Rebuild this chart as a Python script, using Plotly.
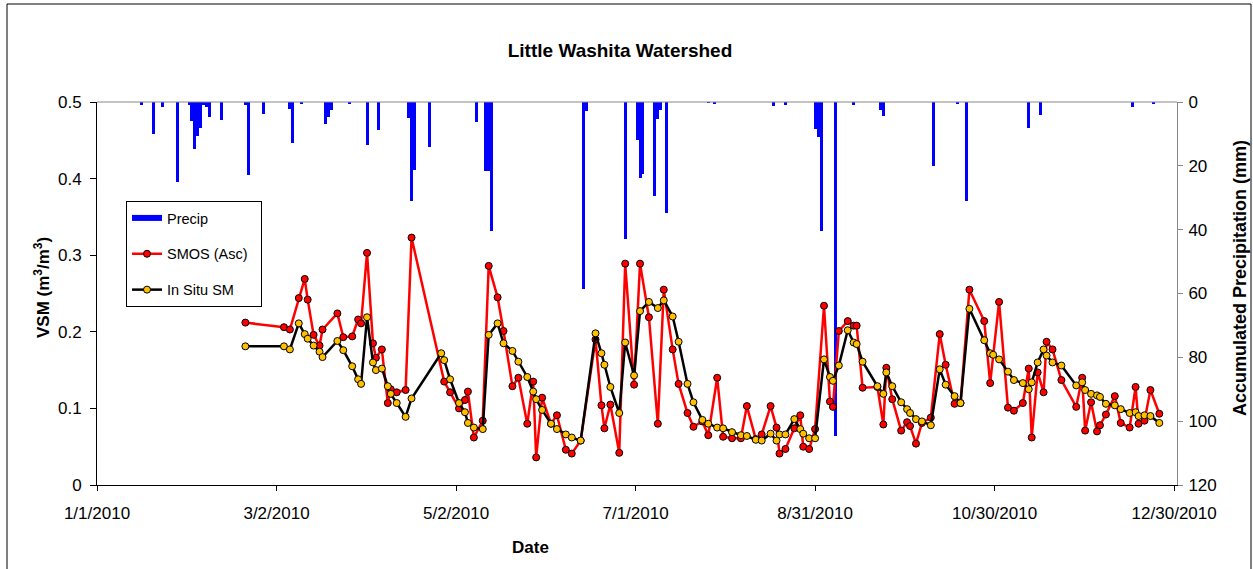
import plotly.graph_objects as go

# ---------------- data ----------------
smos_dates = [
    "2010-02-20", "2010-03-05", "2010-03-07", "2010-03-10", "2010-03-12", "2010-03-13",
    "2010-03-15", "2010-03-17", "2010-03-18", "2010-03-23", "2010-03-25", "2010-03-28",
    "2010-03-30", "2010-03-31", "2010-04-02", "2010-04-04", "2010-04-05", "2010-04-07",
    "2010-04-09", "2010-04-10", "2010-04-12", "2010-04-15", "2010-04-17", "2010-04-28",
    "2010-04-30", "2010-05-03", "2010-05-05", "2010-05-06", "2010-05-08", "2010-05-11",
    "2010-05-13", "2010-05-16", "2010-05-18", "2010-05-21", "2010-05-23", "2010-05-26",
    "2010-05-28", "2010-05-29", "2010-05-31", "2010-06-03", "2010-06-05", "2010-06-08",
    "2010-06-10", "2010-06-13", "2010-06-18", "2010-06-20", "2010-06-21", "2010-06-23",
    "2010-06-26", "2010-06-28", "2010-07-01", "2010-07-03", "2010-07-06", "2010-07-09",
    "2010-07-11", "2010-07-14", "2010-07-16", "2010-07-19", "2010-07-21", "2010-07-24",
    "2010-07-26", "2010-07-29", "2010-07-31", "2010-08-03", "2010-08-06", "2010-08-08",
    "2010-08-11", "2010-08-13", "2010-08-16", "2010-08-18", "2010-08-19", "2010-08-21",
    "2010-08-24", "2010-08-26", "2010-08-27", "2010-08-29", "2010-08-31", "2010-09-03",
    "2010-09-05", "2010-09-06", "2010-09-08", "2010-09-11", "2010-09-13", "2010-09-14",
    "2010-09-16", "2010-09-21", "2010-09-23", "2010-09-24", "2010-09-26", "2010-09-29",
    "2010-10-01", "2010-10-02", "2010-10-04", "2010-10-06", "2010-10-09", "2010-10-12",
    "2010-10-14", "2010-10-17", "2010-10-19", "2010-10-22", "2010-10-27", "2010-10-29",
    "2010-11-01", "2010-11-04", "2010-11-06", "2010-11-09", "2010-11-11", "2010-11-12",
    "2010-11-14", "2010-11-16", "2010-11-17", "2010-11-19", "2010-11-22", "2010-11-27",
    "2010-11-29", "2010-11-30", "2010-12-02", "2010-12-04", "2010-12-05", "2010-12-07",
    "2010-12-10", "2010-12-12", "2010-12-15", "2010-12-17", "2010-12-18", "2010-12-20",
    "2010-12-22", "2010-12-25",
]
smos_vsm = [
    0.212, 0.206, 0.203, 0.244, 0.269, 0.242,
    0.196, 0.182, 0.203, 0.224, 0.193, 0.194,
    0.216, 0.211, 0.303, 0.185, 0.166, 0.177,
    0.107, 0.125, 0.121, 0.124, 0.323, 0.135,
    0.121, 0.100, 0.111, 0.122, 0.062, 0.084,
    0.286, 0.245, 0.201, 0.129, 0.140, 0.080,
    0.135, 0.036, 0.114, 0.080, 0.091, 0.046,
    0.041, 0.058, 0.190, 0.104, 0.074, 0.105,
    0.042, 0.289, 0.131, 0.289, 0.219, 0.080,
    0.255, 0.177, 0.132, 0.094, 0.076, 0.083,
    0.065, 0.140, 0.063, 0.061, 0.061, 0.103,
    0.060, 0.066, 0.103, 0.075, 0.041, 0.047,
    0.074, 0.091, 0.050, 0.047, 0.073, 0.234,
    0.109, 0.102, 0.201, 0.214, 0.208, 0.208,
    0.127, 0.128, 0.079, 0.153, 0.112, 0.071,
    0.082, 0.077, 0.054, 0.081, 0.088, 0.197,
    0.157, 0.106, 0.107, 0.255, 0.214, 0.133,
    0.239, 0.101, 0.097, 0.107, 0.152, 0.062,
    0.147, 0.121, 0.187, 0.177, 0.137, 0.102,
    0.140, 0.071, 0.108, 0.070, 0.078, 0.092,
    0.116, 0.081, 0.075, 0.128, 0.080, 0.084,
    0.124, 0.093,
]

insitu_dates = [
    "2010-02-20", "2010-03-05", "2010-03-07", "2010-03-10", "2010-03-12", "2010-03-13",
    "2010-03-15", "2010-03-17", "2010-03-18", "2010-03-23", "2010-03-25", "2010-03-28",
    "2010-03-30", "2010-03-31", "2010-04-02", "2010-04-04", "2010-04-05", "2010-04-07",
    "2010-04-09", "2010-04-10", "2010-04-12", "2010-04-15", "2010-04-17", "2010-04-27",
    "2010-04-28", "2010-04-30", "2010-05-03", "2010-05-05", "2010-05-06", "2010-05-08",
    "2010-05-11", "2010-05-13", "2010-05-16", "2010-05-18", "2010-05-21", "2010-05-23",
    "2010-05-26", "2010-05-28", "2010-05-29", "2010-05-31", "2010-06-03", "2010-06-05",
    "2010-06-08", "2010-06-10", "2010-06-13", "2010-06-18", "2010-06-20", "2010-06-21",
    "2010-06-23", "2010-06-26", "2010-06-28", "2010-07-01", "2010-07-03", "2010-07-06",
    "2010-07-09", "2010-07-11", "2010-07-14", "2010-07-16", "2010-07-19", "2010-07-21",
    "2010-07-24", "2010-07-26", "2010-07-29", "2010-07-31", "2010-08-03", "2010-08-06",
    "2010-08-08", "2010-08-11", "2010-08-13", "2010-08-16", "2010-08-18", "2010-08-19",
    "2010-08-21", "2010-08-24", "2010-08-26", "2010-08-27", "2010-08-29", "2010-08-31",
    "2010-09-03", "2010-09-05", "2010-09-06", "2010-09-08", "2010-09-11", "2010-09-13",
    "2010-09-14", "2010-09-16", "2010-09-21", "2010-09-23", "2010-09-24", "2010-09-26",
    "2010-09-29", "2010-10-01", "2010-10-02", "2010-10-04", "2010-10-06", "2010-10-09",
    "2010-10-12", "2010-10-14", "2010-10-17", "2010-10-19", "2010-10-22", "2010-10-27",
    "2010-10-29", "2010-10-30", "2010-11-01", "2010-11-04", "2010-11-06", "2010-11-09",
    "2010-11-11", "2010-11-12", "2010-11-14", "2010-11-16", "2010-11-17", "2010-11-19",
    "2010-11-22", "2010-11-27", "2010-11-29", "2010-11-30", "2010-12-02", "2010-12-04",
    "2010-12-05", "2010-12-07", "2010-12-10", "2010-12-12", "2010-12-15", "2010-12-17",
    "2010-12-18", "2010-12-20", "2010-12-22", "2010-12-25",
]
insitu_vsm = [
    0.181, 0.181, 0.177, 0.211, 0.197, 0.191,
    0.182, 0.174, 0.167, 0.188, 0.176, 0.155,
    0.138, 0.132, 0.219, 0.160, 0.150, 0.152,
    0.129, 0.119, 0.107, 0.089, 0.113, 0.172,
    0.163, 0.138, 0.107, 0.095, 0.081, 0.075,
    0.073, 0.196, 0.211, 0.185, 0.175, 0.161,
    0.141, 0.122, 0.112, 0.098, 0.080, 0.073,
    0.066, 0.062, 0.058, 0.198, 0.172, 0.157,
    0.128, 0.094, 0.186, 0.143, 0.227, 0.239,
    0.231, 0.241, 0.220, 0.187, 0.132, 0.108,
    0.085, 0.080, 0.075, 0.074, 0.069, 0.065,
    0.064, 0.059, 0.058, 0.067, 0.058, 0.066,
    0.066, 0.086, 0.073, 0.067, 0.061, 0.061,
    0.164, 0.141, 0.136, 0.156, 0.202, 0.186,
    0.184, 0.161, 0.129, 0.119, 0.147, 0.129,
    0.108, 0.099, 0.094, 0.086, 0.083, 0.078,
    0.151, 0.131, 0.116, 0.107, 0.230, 0.189,
    0.172, 0.170, 0.164, 0.148, 0.137, 0.133,
    0.125, 0.134, 0.160, 0.177, 0.169, 0.160,
    0.156, 0.130, 0.134, 0.124, 0.119, 0.117,
    0.115, 0.106, 0.104, 0.099, 0.094, 0.095,
    0.090, 0.091, 0.090, 0.081,
]

precip_dates = [
    "2010-01-16", "2010-01-20", "2010-01-23", "2010-01-28", "2010-02-01", "2010-02-02",
    "2010-02-03", "2010-02-04", "2010-02-05", "2010-02-06", "2010-02-07", "2010-02-08",
    "2010-02-12", "2010-02-20", "2010-02-21", "2010-02-26", "2010-03-07", "2010-03-08",
    "2010-03-11", "2010-03-19", "2010-03-20", "2010-03-21", "2010-03-27", "2010-04-02",
    "2010-04-06", "2010-04-16", "2010-04-17", "2010-04-18", "2010-04-23", "2010-05-09",
    "2010-05-12", "2010-05-13", "2010-05-14", "2010-06-14", "2010-06-15", "2010-06-28",
    "2010-07-02", "2010-07-03", "2010-07-04", "2010-07-08", "2010-07-09", "2010-07-10",
    "2010-07-12", "2010-07-26", "2010-07-28", "2010-08-17", "2010-08-21", "2010-08-31",
    "2010-09-01", "2010-09-02", "2010-09-07", "2010-09-13", "2010-09-22", "2010-09-23",
    "2010-10-10", "2010-10-18", "2010-10-21", "2010-11-11", "2010-11-15", "2010-12-16",
    "2010-12-23",
]
precip_mm = [
    1.0, 10.0, 1.6, 25.0, 1.0, 6.0,
    14.6, 10.7, 8.0, 1.0, 1.6, 4.7,
    5.7, 1.0, 23.0, 3.9, 2.1, 12.9,
    0.5, 7.0, 4.7, 2.6, 0.5, 13.4,
    8.9, 5.0, 30.9, 21.4, 14.1, 6.3,
    21.7, 21.7, 40.3, 58.6, 2.9, 42.9,
    12.0, 23.8, 22.7, 29.3, 5.4, 2.6,
    34.8, 0.2, 0.7, 1.3, 1.0, 8.4,
    11.0, 40.3, 104.5, 1.0, 2.6, 4.5,
    20.0, 0.5, 31.0, 8.3, 4.0, 1.6,
    0.5,
]

x_tickvals = ["2010-01-01", "2010-03-02 12:00", "2010-05-02", "2010-07-01 12:00",
              "2010-08-31", "2010-10-30 12:00", "2010-12-30"]
x_ticktext = ["1/1/2010", "3/2/2010", "5/2/2010", "7/1/2010",
              "8/31/2010", "10/30/2010", "12/30/2010"]
vsm_ticks = [0, 0.1, 0.2, 0.3, 0.4, 0.5]
precip_ticks = [0, 20, 40, 60, 80, 100, 120]

# ---------------- figure ----------------
W, H = 1253, 569
ML, MR, MT, MB = 97, 76, 102, 84
PW, PH = W - ML - MR, H - MT - MB

FONT = "Liberation Sans, Arial, sans-serif"
PAD = "\u00a0\u00a0"

fig = go.Figure()

# precipitation bars (legend entry drawn by a key-only trace below, Excel style)
fig.add_trace(go.Bar(
    x=precip_dates, y=precip_mm, name="Precip", yaxis="y",
    width=86400000, marker=dict(color="#0000FF", line=dict(width=0)),
    legendgroup="g1", showlegend=False,
))
fig.add_trace(go.Scatter(
    x=[None], y=[None], name="Precip", yaxis="y", mode="lines",
    line=dict(color="#0000FF", width=6), legendgroup="g1", showlegend=True,
    hoverinfo="skip",
))
fig.add_trace(go.Scatter(
    x=smos_dates, y=smos_vsm, name="SMOS (Asc)" + PAD, yaxis="y2",
    mode="lines+markers",
    line=dict(color="#FF0000", width=2.5),
    marker=dict(color="#FF0000", size=7, line=dict(color="black", width=1)),
    legendgroup="g2",
))
fig.add_trace(go.Scatter(
    x=insitu_dates, y=insitu_vsm, name="In Situ SM", yaxis="y2",
    mode="lines+markers",
    line=dict(color="black", width=2.5),
    marker=dict(color="#FFC000", size=7, line=dict(color="black", width=1)),
    legendgroup="g3",
))

def px_x(p):
    return (p - ML) / PW

def px_y(p):
    return (H - MB - p) / PH

annotations = [
    dict(text="<b>Date</b>", x=px_x(530), y=px_y(547), xref="paper", yref="paper",
         xanchor="center", yanchor="middle", showarrow=False, font=dict(size=17)),
    dict(text="<b>VSM (m<sup>3</sup>/m<sup>3</sup>)</b>", x=px_x(42), y=px_y(288),
         xref="paper", yref="paper", xanchor="center", yanchor="middle",
         textangle=-90, showarrow=False, font=dict(size=17)),
    dict(text="<b>Accumulated Precipitation (mm)</b>", x=px_x(1240), y=px_y(278),
         xref="paper", yref="paper", xanchor="center", yanchor="middle",
         textangle=-90, showarrow=False, font=dict(size=18)),
]

fig.update_layout(
    width=W, height=H,
    margin=dict(l=ML, r=MR, t=MT, b=MB),
    paper_bgcolor="white", plot_bgcolor="white",
    font=dict(family=FONT, size=17, color="black"),
    showlegend=True,
    title=dict(text="<b>Little Washita Watershed</b>", x=620 / W, xanchor="center",
               y=1 - 50 / H, yanchor="middle", yref="container", xref="container",
               font=dict(size=19, family=FONT)),
    bargap=0,
    legend=dict(x=px_x(126), y=px_y(201), xanchor="left", yanchor="top",
                bordercolor="black", borderwidth=1, bgcolor="white",
                font=dict(size=14.5, family=FONT), tracegroupgap=14,
                traceorder="grouped"),
    xaxis=dict(type="date", range=["2010-01-01", "2010-12-30 23:00"],
               tickvals=x_tickvals, ticktext=x_ticktext,
               ticks="outside", ticklen=5, tickcolor="black", tickwidth=1,
               ticklabelstandoff=8,
               showline=True, linecolor="black", linewidth=1,
               showgrid=False, zeroline=False),
    yaxis=dict(range=[120, 0], tickvals=precip_ticks, side="right",
               ticks="outside", ticklen=5, tickcolor="#888888",
               ticklabelstandoff=2,
               showline=True, linecolor="#888888", linewidth=1,
               showgrid=False, zeroline=False),
    yaxis2=dict(range=[0, 0.5], tickvals=vsm_ticks, side="left", overlaying="y",
                ticks="outside", ticklen=6, tickcolor="black",
                ticklabelstandoff=5,
                showline=True, linecolor="black", linewidth=1,
                showgrid=False, zeroline=False),
    annotations=annotations,
    shapes=[
        dict(type="line", xref="paper", yref="paper", x0=0, x1=1, y0=1, y1=1,
             line=dict(color="#888888", width=1)),
        dict(type="rect", xref="paper", yref="paper",
             x0=px_x(7), x1=px_x(1251), y0=px_y(600), y1=px_y(4),
             line=dict(color="black", width=1), fillcolor="rgba(0,0,0,0)", layer="below"),
    ],
)

fig.write_html("out.html", config={"displayModeBar": False},
               post_script="document.body.style.margin='0px';")
